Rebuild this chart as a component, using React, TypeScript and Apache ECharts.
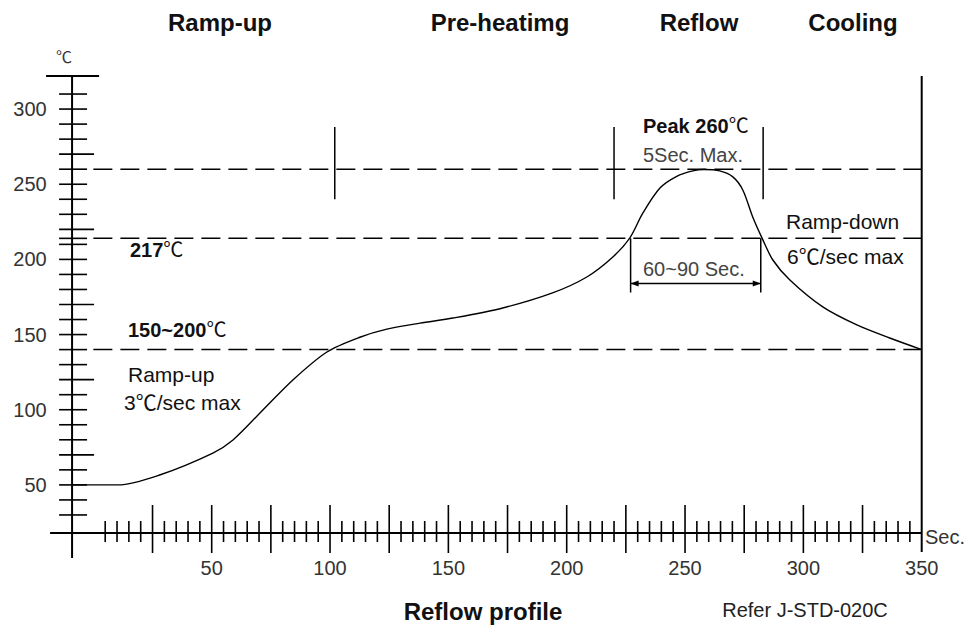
import React, { useEffect, useRef } from "react";
import * as echarts from "echarts";

const FONT = '"Liberation Sans", Arial, "Noto Sans CJK SC", sans-serif';

// Reflow temperature profile (seconds, °C)
const profileX = [-9, 10.5, 28, 50.5, 59, 70.4, 84.3, 98.7, 112.6, 124, 138, 152, 173, 194, 208.5, 219.5, 226.7, 232.2, 239.4, 246.5, 253.3, 258, 264.7, 270.2, 274.4, 278.6, 282.5, 287.1, 294.3, 308.2, 322.6, 336.5, 350];
const profileY = [50, 50, 56.6, 71.2, 79.9, 97.8, 119.8, 138.4, 148.2, 153.6, 157.6, 161, 167.7, 177.7, 188.3, 201.6, 214.3, 230.9, 247.5, 255.3, 258.9, 259.8, 258.9, 254.9, 246.2, 228.2, 214.3, 199.6, 186.3, 168.4, 156.4, 147.7, 140];

// Axis labels
const xAxisLabels = [50, 100, 150, 200, 250, 300, 350];
const yAxisLabels = [50, 100, 150, 200, 250, 300];

// Axis decorations
const yTicks = [30, 40, 50, 60, 70, 80, 90, 100, 110, 120, 130, 140, 150, 160, 170, 180, 190, 200, 210, 214, 220, 230, 240, 250, 260, 270, 280, 290, 300, 310];
const yLongTicks = [70, 120, 170, 220, 270];
const xTickStep = 5;
const xMajorStep = 25;

// Reference levels (dashed lines)
const refLevels = [260, 214, 140];
// Phase boundary markers
const phaseMarkX = [102, 220, 283];
const phaseMarkY = [240, 288];
// Time above liquidus bracket
const talX = [227, 282];
const talY = [214, 178];
const talArrowY = 184;

const X_MIN = -10;
const X_MAX = 350;
const Y_MIN = 18;
const Y_MAX = 322;
const Y_AXIS_AT = -9;

export default function App() {
  const ref = useRef<HTMLDivElement>(null);
  useEffect(() => {
    if (!ref.current) return;
    const chart = echarts.init(ref.current, null, { renderer: "svg" });

    const renderAxes = (params: any, api: any) => {
      const c = (x: number, y: number) => api.coord([x, y]);
      const [ax, ay] = c(Y_AXIS_AT, Y_MIN);
      const topY = c(Y_AXIS_AT, Y_MAX)[1];
      const rx = c(X_MAX, Y_MIN)[0];
      const children: any[] = [];
      const ln = (x1: number, y1: number, x2: number, y2: number, w: number, dash?: number[]) => {
        const style: any = { stroke: "#000", lineWidth: w };
        if (dash) style.lineDash = dash;
        children.push({ type: "line", shape: { x1, y1, x2, y2 }, style });
      };
      // axes
      ln(ax, topY, ax, ay + 25, 2);
      ln(ax - 26, topY, ax + 27, topY, 2);
      ln(ax - 22, ay, rx, ay, 2);
      ln(rx, topY, rx, ay + 19, 2);
      // x ticks
      for (let v = xTickStep; v < X_MAX; v += xTickStep) {
        const px = c(v, Y_MIN)[0];
        const major = v % xMajorStep === 0;
        ln(px, ay - (major ? 28 : 12), px, ay + (major ? 20 : 9), 1.6);
      }
      // y ticks
      yTicks.forEach((v) => {
        const py = c(Y_AXIS_AT, v)[1];
        const long = yLongTicks.indexOf(v) >= 0;
        ln(ax - 13, py, ax + (long ? 22 : 15), py, 1.6);
      });
      // reference dashed lines
      refLevels.forEach((v) => {
        const [x1, y1] = c(0, v);
        const [x2] = c(X_MAX, v);
        ln(x1, y1, x2, y1, 1.5, [19, 8]);
      });
      // phase markers
      phaseMarkX.forEach((v) => {
        const [px, py1] = c(v, phaseMarkY[0]);
        const py2 = c(v, phaseMarkY[1])[1];
        ln(px, py1, px, py2, 1.5);
      });
      // TAL bracket
      const [bx1, by1] = c(talX[0], talY[0]);
      const [bx2, by2] = c(talX[1], talY[1]);
      ln(bx1, by1, bx1, by2, 1.5);
      ln(bx2, by1, bx2, by2, 1.5);
      const aY = c(talX[0], talArrowY)[1];
      ln(bx1, aY, bx2, aY, 1.5);
      children.push({
        type: "polygon",
        shape: { points: [[bx1, aY], [bx1 + 8, aY - 3], [bx1 + 8, aY + 3]] },
        style: { fill: "#000" },
      });
      children.push({
        type: "polygon",
        shape: { points: [[bx2, aY], [bx2 - 8, aY - 3], [bx2 - 8, aY + 3]] },
        style: { fill: "#000" },
      });
      return { type: "group", children };
    };

    const txt = (text: string, x: number, y: number, size: number, opts: any = {}) => ({
      type: "text",
      x,
      y,
      silent: true,
      style: {
        text,
        fontSize: size,
        fontFamily: FONT,
        fontWeight: opts.bold ? "bold" : "normal",
        fill: opts.color || "#111",
        textAlign: opts.align || "left",
        textVerticalAlign: "middle",
        rich: opts.rich,
      },
    });
    const richDeg = (size: number, color: string) => ({
      b: { fontSize: size, fontFamily: FONT, fontWeight: "bold", fill: color, color },
      n: { fontSize: size, fontFamily: FONT, fontWeight: "normal", fill: color, color },
    });

    chart.setOption({
      animation: false,
      backgroundColor: "#fff",
      grid: { left: 69.7, right: 50.3, top: 76, bottom: 97, containLabel: false },
      xAxis: {
        type: "value",
        min: X_MIN,
        max: X_MAX,
        interval: xTickStep,
        axisLine: { show: false },
        axisTick: { show: false },
        splitLine: { show: false },
        axisLabel: {
          margin: 25,
          fontSize: 20,
          fontFamily: FONT,
          color: "#333",
          formatter: (v: number) => (xAxisLabels.indexOf(v) >= 0 ? String(v) : ""),
        },
      },
      yAxis: {
        type: "value",
        min: Y_MIN,
        max: Y_MAX,
        interval: 2,
        axisLine: { show: false },
        axisTick: { show: false },
        splitLine: { show: false },
        axisLabel: {
          margin: 23,
          fontSize: 20,
          fontFamily: FONT,
          color: "#333",
          formatter: (v: number) => (yAxisLabels.indexOf(v) >= 0 ? String(v) : ""),
        },
      },
      series: [
        {
          type: "custom",
          coordinateSystem: "cartesian2d",
          silent: true,
          data: [[0, 100]],
          renderItem: renderAxes,
          z: 3,
        },
        {
          type: "line",
          data: profileX.map((x, i) => [x, profileY[i]]),
          smooth: 0.3,
          showSymbol: false,
          symbol: "none",
          silent: true,
          lineStyle: { color: "#000", width: 1.4 },
          z: 4,
        },
      ],
      graphic: [
        txt("Ramp-up", 220, 22, 24, { bold: true, align: "center" }),
        txt("Pre-heatimg", 500, 22, 24, { bold: true, align: "center" }),
        txt("Reflow", 699, 22, 24, { bold: true, align: "center" }),
        txt("Cooling", 853, 22, 24, { bold: true, align: "center" }),
        txt("℃", 64, 57, 16, { align: "center", color: "#333" }),
        txt("Sec.", 925, 537, 20, { color: "#333" }),
        txt("{b|Peak 260}{n|℃}", 643, 126, 20, { rich: richDeg(20, "#111") }),
        txt("5Sec. Max.", 643, 155, 20, { color: "#444" }),
        txt("60~90 Sec.", 643, 269, 20, { color: "#444" }),
        txt("Ramp-down", 786, 221, 21, { color: "#111" }),
        txt("6℃/sec max", 787, 256, 21, { color: "#111" }),
        txt("{b|217}{n|℃}", 130, 250, 20, { rich: richDeg(20, "#111") }),
        txt("{b|150~200}{n|℃}", 128, 330, 20, { rich: richDeg(20, "#111") }),
        txt("Ramp-up", 128, 374, 21, { color: "#111" }),
        txt("3℃/sec max", 124, 402, 21, { color: "#111" }),
        txt("Reflow profile", 483, 611, 24, { bold: true, align: "center" }),
        txt("Refer J-STD-020C", 805, 610, 20, { align: "center", color: "#222" }),
      ],
    });
    return () => chart.dispose();
  }, []);
  return (
    <div
      ref={ref}
      style={{ position: "fixed", left: 0, top: 0, width: 972, height: 630, background: "#fff" }}
    />
  );
}
